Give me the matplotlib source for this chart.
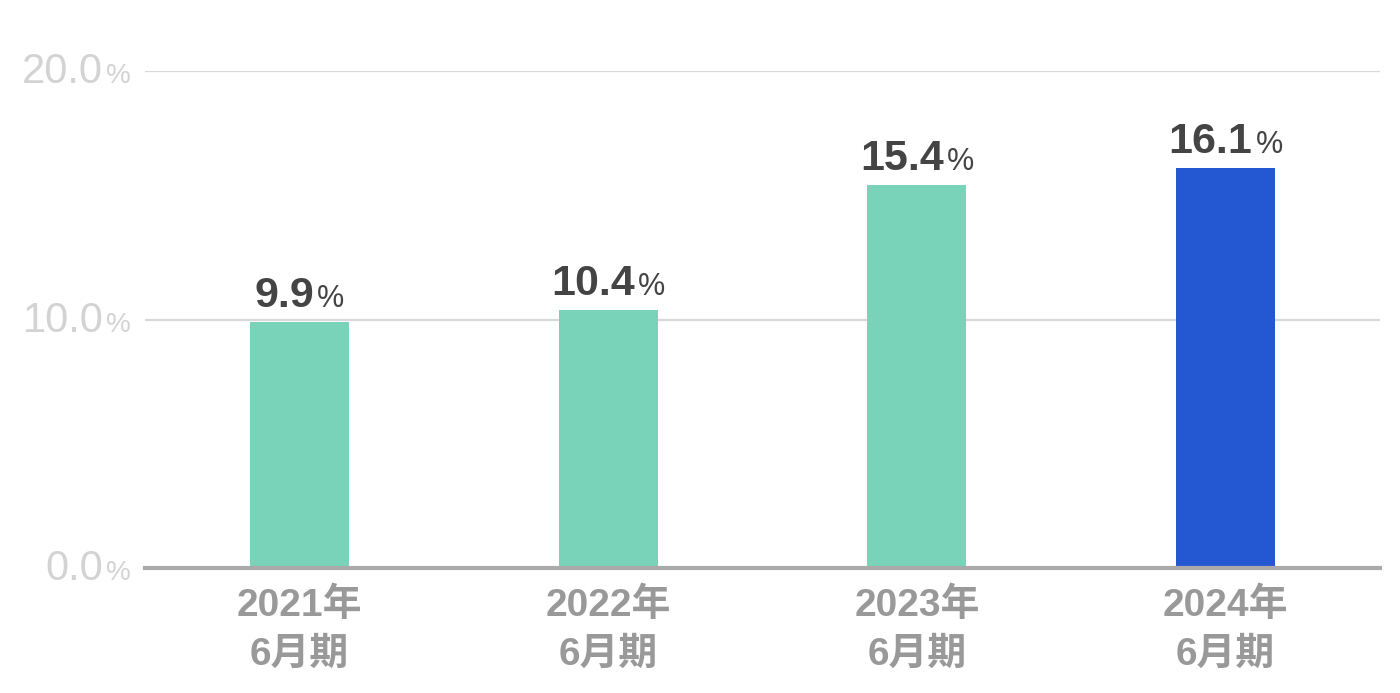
import matplotlib
matplotlib.use('Agg')
import matplotlib.pyplot as plt
from matplotlib.transforms import offset_copy

# data
periods = ['2021年\n6月期', '2022年\n6月期', '2023年\n6月期', '2024年\n6月期']
values = [9.9, 10.4, 15.4, 16.1]
bar_colors = ['#78d3b8', '#78d3b8', '#78d3b8', '#2458d3']
yticks = [0, 10, 20]

plt.rcParams['font.family'] = ['Liberation Sans', 'Noto Sans CJK JP', 'DejaVu Sans']

fig = plt.figure(figsize=(14, 6.93), dpi=100)
ax = fig.add_axes([145 / 1400, 125 / 693, 1235 / 1400, (568 - 71) / 693])

x = range(len(values))
ax.bar(x, values, width=0.32, color=bar_colors, zorder=3)
ax.set_xlim(-0.5, len(values) - 0.5)
ax.set_ylim(0, 20)

for s in ['top', 'right', 'left']:
    ax.spines[s].set_visible(False)
ax.spines['bottom'].set_color('#aaaaaa')
ax.spines['bottom'].set_linewidth(3)
ax.spines['bottom'].set_zorder(4)

for t in yticks[1:]:
    ax.axhline(t, color='#d9d9d9', lw=1.6, zorder=1)

ax.set_xticks(list(x))
ax.set_xticklabels(periods, fontsize=28, color='#999999', fontweight='bold',
                   linespacing=1.45)
ax.tick_params(axis='x', length=0, pad=14)
ax.set_yticks([])

fig.canvas.draw()
renderer = fig.canvas.get_renderer()


def num_pct(xd, yd, num, big, small, color, weight, ha='center', dy=0, dx=0):
    # number + smaller % sign, placed together
    t1 = ax.text(xd, yd, num, fontsize=big, color=color, fontweight=weight,
                 ha='left', va='baseline', zorder=5)
    t2 = ax.text(xd, yd, '%', fontsize=small, color=color, fontweight='normal',
                 ha='left', va='baseline', zorder=5)
    w1 = t1.get_window_extent(renderer).width
    w2 = t2.get_window_extent(renderer).width
    gap = 3
    total = w1 + gap + w2
    if ha == 'center':
        start = -total / 2
    else:
        start = -total
    start += dx
    t1.set_transform(offset_copy(ax.transData, fig=fig, x=start, y=dy, units='dots'))
    t2.set_transform(offset_copy(ax.transData, fig=fig, x=start + w1 + gap, y=dy, units='dots'))
    return t1, t2


for i, v in enumerate(values):
    num_pct(i, v, f'{v:.1f}', 31, 22, '#444444', 'bold', dy=15)

# y axis labels with small %
for t in yticks:
    num_pct(-0.5, t, f'{t:.1f}', 30, 20, '#d3d3d3', 'normal',
            ha='right', dx=-14, dy=-12)

fig.savefig('out.png', dpi=100, facecolor='white')
